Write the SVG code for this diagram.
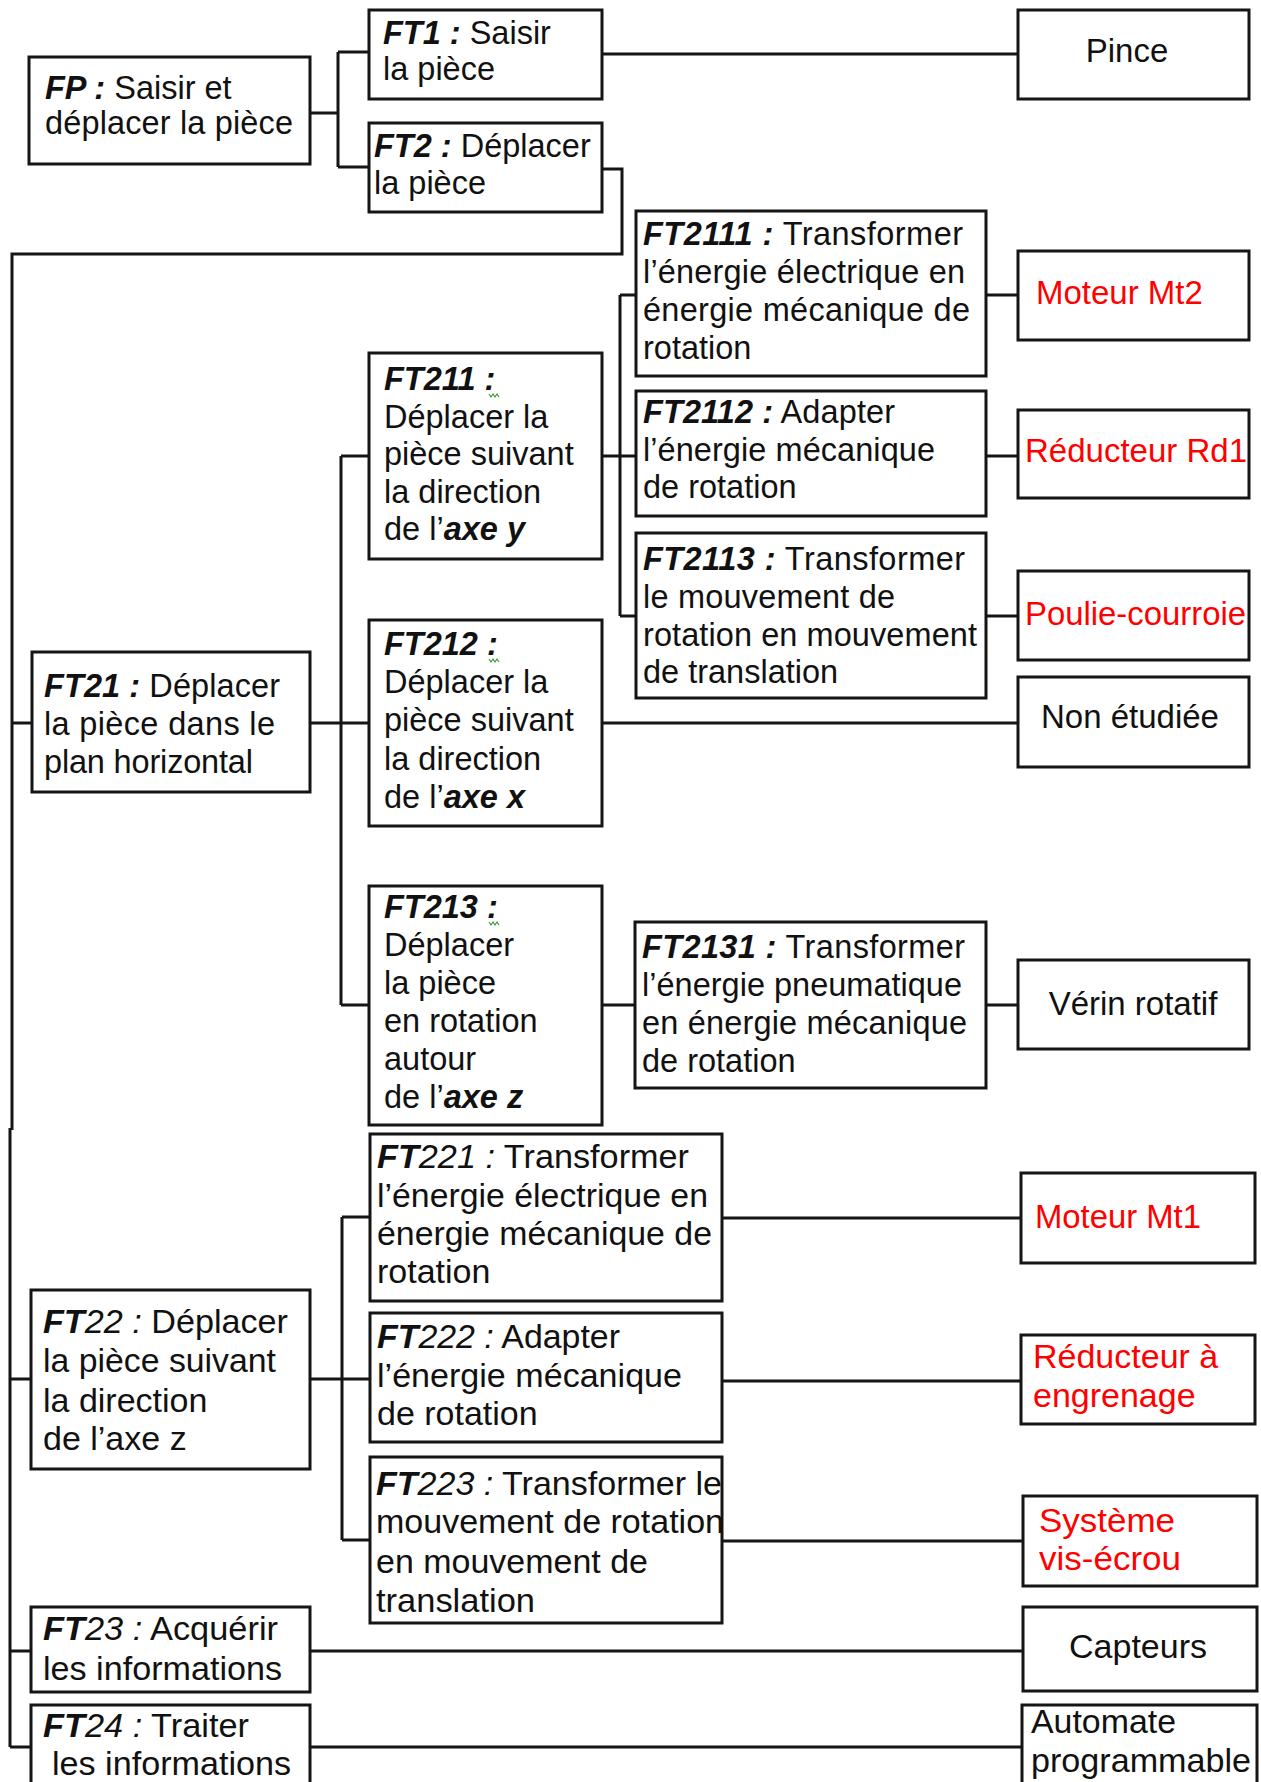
<svg xmlns="http://www.w3.org/2000/svg" width="1261" height="1782" viewBox="0 0 1261 1782">
<style>
.box{fill:#fff;stroke:#151515;stroke-width:3}
.conn{fill:none;stroke:#151515;stroke-width:3}
text{font-family:"Liberation Sans",Arial,sans-serif;font-size:32.5px;fill:#111}
.r{font-size:33px;fill:#ff0000}
.n{font-size:33px}
.lo{font-size:34px}
.bi{font-weight:bold;font-style:italic}
.it{font-style:italic}
.sq{fill:none;stroke:#3a9a3a;stroke-width:1.2}
</style>
<rect x="0" y="0" width="1261" height="1782" fill="#fff"/>
<g id="connectors">
<path class="conn" d="M310,113 H338 M338,52 V167 M338,52 H369 M338,167 H369"/>
<path class="conn" d="M602,54 H1018"/>
<path class="conn" d="M602,169 H622 V254 H12 V1130"/>
<path class="conn" d="M10,1128 V1747"/>
<path class="conn" d="M12,723 H32 M310,723 H369 M341,456 V1005 M341,456 H369 M341,1005 H369"/>
<path class="conn" d="M602,456 H636 M620,295 V616 M620,295 H636 M620,616 H636"/>
<path class="conn" d="M986,295 H1018 M986,456 H1018 M986,616 H1018"/>
<path class="conn" d="M602,723 H1018"/>
<path class="conn" d="M602,1005 H635 M986,1005 H1018"/>
<path class="conn" d="M10,1379 H31 M310,1379 H370 M342,1217 V1540 M342,1217 H370 M342,1540 H370"/>
<path class="conn" d="M722,1218 H1021 M722,1381 H1021 M722,1541 H1023"/>
<path class="conn" d="M10,1651 H31 M310,1651 H1023"/>
<path class="conn" d="M10,1747 H31 M310,1747 H1022"/>
</g>
<g id="FP">
<rect class="box" x="29" y="57" width="281" height="107"/>
<text x="45" y="99"><tspan class="bi">FP :</tspan> Saisir et</text>
<text x="45" y="134" textLength="248" lengthAdjust="spacing">déplacer la pièce</text>
</g>
<g id="FT1">
<rect class="box" x="369" y="10" width="233" height="89"/>
<text x="383" y="44"><tspan class="bi">FT1 :</tspan> Saisir</text>
<text x="383" y="80">la pièce</text>
</g>
<g id="FT2">
<rect class="box" x="369" y="123" width="233" height="89"/>
<text x="374" y="157"><tspan class="bi">FT2 :</tspan> Déplacer</text>
<text x="374" y="194">la pièce</text>
</g>
<g id="Pince">
<rect class="box" x="1018" y="10" width="231" height="89"/>
<text class="n" x="1127" y="62" text-anchor="middle">Pince</text>
</g>
<g id="FT2111">
<rect class="box" x="636" y="211" width="350" height="165"/>
<text x="643" y="245" textLength="320" lengthAdjust="spacing"><tspan class="bi">FT2111 :</tspan> Transformer</text>
<text x="643" y="283" textLength="322" lengthAdjust="spacing">l’énergie électrique en</text>
<text x="643" y="321" textLength="327" lengthAdjust="spacing">énergie mécanique de</text>
<text x="643" y="359">rotation</text>
</g>
<g id="MoteurMt2">
<rect class="box" x="1018" y="251" width="231" height="89"/>
<text class="r" x="1036" y="304">Moteur Mt2</text>
</g>
<g id="FT211">
<rect class="box" x="369" y="353" width="233" height="206"/>
<text x="384" y="390"><tspan class="bi">FT211 :</tspan></text>
<path class="sq" d="M489,394 l2,3 l2,-3 l2,3 l2,-3 l2,3"/>
<text x="384" y="428">Déplacer la</text>
<text x="384" y="465">pièce suivant</text>
<text x="384" y="503">la direction</text>
<text x="384" y="540">de l’<tspan class="bi">axe y</tspan></text>
</g>
<g id="FT2112">
<rect class="box" x="636" y="391" width="350" height="125"/>
<text x="643" y="423" textLength="252" lengthAdjust="spacing"><tspan class="bi">FT2112 :</tspan> Adapter</text>
<text x="643" y="461" textLength="292" lengthAdjust="spacing">l’énergie mécanique</text>
<text x="643" y="498">de rotation</text>
</g>
<g id="ReducteurRd1">
<rect class="box" x="1018" y="410" width="231" height="88"/>
<text class="r" x="1025" y="462" textLength="222" lengthAdjust="spacing">Réducteur Rd1</text>
</g>
<g id="FT2113">
<rect class="box" x="636" y="533" width="350" height="165"/>
<text x="643" y="570" textLength="322" lengthAdjust="spacing"><tspan class="bi">FT2113 :</tspan> Transformer</text>
<text x="643" y="608" textLength="252" lengthAdjust="spacing">le mouvement de</text>
<text x="643" y="646" textLength="334" lengthAdjust="spacing">rotation en mouvement</text>
<text x="643" y="683">de translation</text>
</g>
<g id="PoulieCourroie">
<rect class="box" x="1018" y="571" width="231" height="89"/>
<text class="r" x="1025" y="625" textLength="221" lengthAdjust="spacingAndGlyphs">Poulie-courroie</text>
</g>
<g id="FT21">
<rect class="box" x="32" y="652" width="278" height="140"/>
<text x="44" y="697" textLength="236" lengthAdjust="spacing"><tspan class="bi">FT21 :</tspan> Déplacer</text>
<text x="44" y="735" textLength="231" lengthAdjust="spacing">la pièce dans le</text>
<text x="44" y="773" textLength="209" lengthAdjust="spacing">plan horizontal</text>
</g>
<g id="FT212">
<rect class="box" x="369" y="620" width="233" height="206"/>
<text x="384" y="655"><tspan class="bi">FT212 :</tspan></text>
<path class="sq" d="M489,659 l2,3 l2,-3 l2,3 l2,-3 l2,3"/>
<text x="384" y="693">Déplacer la</text>
<text x="384" y="731">pièce suivant</text>
<text x="384" y="770">la direction</text>
<text x="384" y="808">de l’<tspan class="bi">axe x</tspan></text>
</g>
<g id="NonEtudiee">
<rect class="box" x="1018" y="677" width="231" height="90"/>
<text class="n" x="1130" y="728" text-anchor="middle">Non étudiée</text>
</g>
<g id="FT213">
<rect class="box" x="369" y="886" width="233" height="239"/>
<text x="384" y="918"><tspan class="bi">FT213 :</tspan></text>
<path class="sq" d="M489,922 l2,3 l2,-3 l2,3 l2,-3 l2,3"/>
<text x="384" y="956">Déplacer</text>
<text x="384" y="994">la pièce</text>
<text x="384" y="1032">en rotation</text>
<text x="384" y="1070">autour</text>
<text x="384" y="1108">de l’<tspan class="bi">axe z</tspan></text>
</g>
<g id="FT2131">
<rect class="box" x="635" y="922" width="351" height="166"/>
<text x="642" y="958" textLength="323" lengthAdjust="spacing"><tspan class="bi">FT2131 :</tspan> Transformer</text>
<text x="642" y="996" textLength="320" lengthAdjust="spacing">l’énergie pneumatique</text>
<text x="642" y="1034" textLength="325" lengthAdjust="spacing">en énergie mécanique</text>
<text x="642" y="1072">de rotation</text>
</g>
<g id="VerinRotatif">
<rect class="box" x="1018" y="960" width="231" height="89"/>
<text class="n" x="1133" y="1015" text-anchor="middle">Vérin rotatif</text>
</g>
<g id="FT221">
<rect class="box" x="370" y="1134" width="352" height="167"/>
<text class="lo" x="377" y="1168" textLength="312" lengthAdjust="spacingAndGlyphs"><tspan class="bi">FT</tspan><tspan class="it">221 :</tspan> Transformer</text>
<text class="lo" x="377" y="1207" textLength="331" lengthAdjust="spacingAndGlyphs">l’énergie électrique en</text>
<text class="lo" x="377" y="1245" textLength="335" lengthAdjust="spacingAndGlyphs">énergie mécanique de</text>
<text class="lo" x="377" y="1283">rotation</text>
</g>
<g id="MoteurMt1">
<rect class="box" x="1021" y="1173" width="234" height="90"/>
<text class="r lo" x="1035" y="1228" textLength="166" lengthAdjust="spacingAndGlyphs">Moteur Mt1</text>
</g>
<g id="FT22">
<rect class="box" x="31" y="1290" width="279" height="179"/>
<text class="lo" x="43" y="1333" textLength="245" lengthAdjust="spacingAndGlyphs"><tspan class="bi">FT</tspan><tspan class="it">22 :</tspan> Déplacer</text>
<text class="lo" x="43" y="1372" textLength="233" lengthAdjust="spacingAndGlyphs">la pièce suivant</text>
<text class="lo" x="43" y="1412">la direction</text>
<text class="lo" x="43" y="1450">de l’axe z</text>
</g>
<g id="FT222">
<rect class="box" x="370" y="1313" width="352" height="129"/>
<text class="lo" x="377" y="1348" textLength="243" lengthAdjust="spacingAndGlyphs"><tspan class="bi">FT</tspan><tspan class="it">222 :</tspan> Adapter</text>
<text class="lo" x="377" y="1387" textLength="305" lengthAdjust="spacingAndGlyphs">l’énergie mécanique</text>
<text class="lo" x="377" y="1425">de rotation</text>
</g>
<g id="ReducteurEngrenage">
<rect class="box" x="1021" y="1335" width="234" height="89"/>
<text class="r lo" x="1033" y="1368">Réducteur à</text>
<text class="r lo" x="1033" y="1407">engrenage</text>
</g>
<g id="FT223">
<rect class="box" x="370" y="1457" width="352" height="166"/>
<text class="lo" x="376" y="1495" textLength="346" lengthAdjust="spacingAndGlyphs"><tspan class="bi">FT</tspan><tspan class="it">223 :</tspan> Transformer le</text>
<text class="lo" x="376" y="1533" textLength="348" lengthAdjust="spacingAndGlyphs">mouvement de rotation</text>
<text class="lo" x="376" y="1573" textLength="272" lengthAdjust="spacingAndGlyphs">en mouvement de</text>
<text class="lo" x="376" y="1612" textLength="159" lengthAdjust="spacingAndGlyphs">translation</text>
</g>
<g id="SystemeVisEcrou">
<rect class="box" x="1023" y="1496" width="234" height="90"/>
<text class="r lo" x="1039" y="1532" textLength="136" lengthAdjust="spacingAndGlyphs">Système</text>
<text class="r lo" x="1039" y="1570" textLength="142" lengthAdjust="spacingAndGlyphs">vis-écrou</text>
</g>
<g id="FT23">
<rect class="box" x="31" y="1607" width="279" height="85"/>
<text class="lo" x="43" y="1640" textLength="235" lengthAdjust="spacingAndGlyphs"><tspan class="bi">FT</tspan><tspan class="it">23 :</tspan> Acquérir</text>
<text class="lo" x="43" y="1680" textLength="239" lengthAdjust="spacingAndGlyphs">les informations</text>
</g>
<g id="Capteurs">
<rect class="box" x="1023" y="1607" width="234" height="84"/>
<text class="lo" x="1138" y="1658" text-anchor="middle">Capteurs</text>
</g>
<g id="FT24">
<rect class="box" x="31" y="1705" width="279" height="100"/>
<text class="lo" x="43" y="1737" textLength="206" lengthAdjust="spacingAndGlyphs"><tspan class="bi">FT</tspan><tspan class="it">24 :</tspan> Traiter</text>
<text class="lo" x="52" y="1775" textLength="239" lengthAdjust="spacingAndGlyphs">les informations</text>
</g>
<g id="Automate">
<rect class="box" x="1022" y="1705" width="235" height="100"/>
<text class="lo" x="1031" y="1733" textLength="145" lengthAdjust="spacingAndGlyphs">Automate</text>
<text class="lo" x="1031" y="1772" textLength="220" lengthAdjust="spacingAndGlyphs">programmable</text>
</g>
</svg>
